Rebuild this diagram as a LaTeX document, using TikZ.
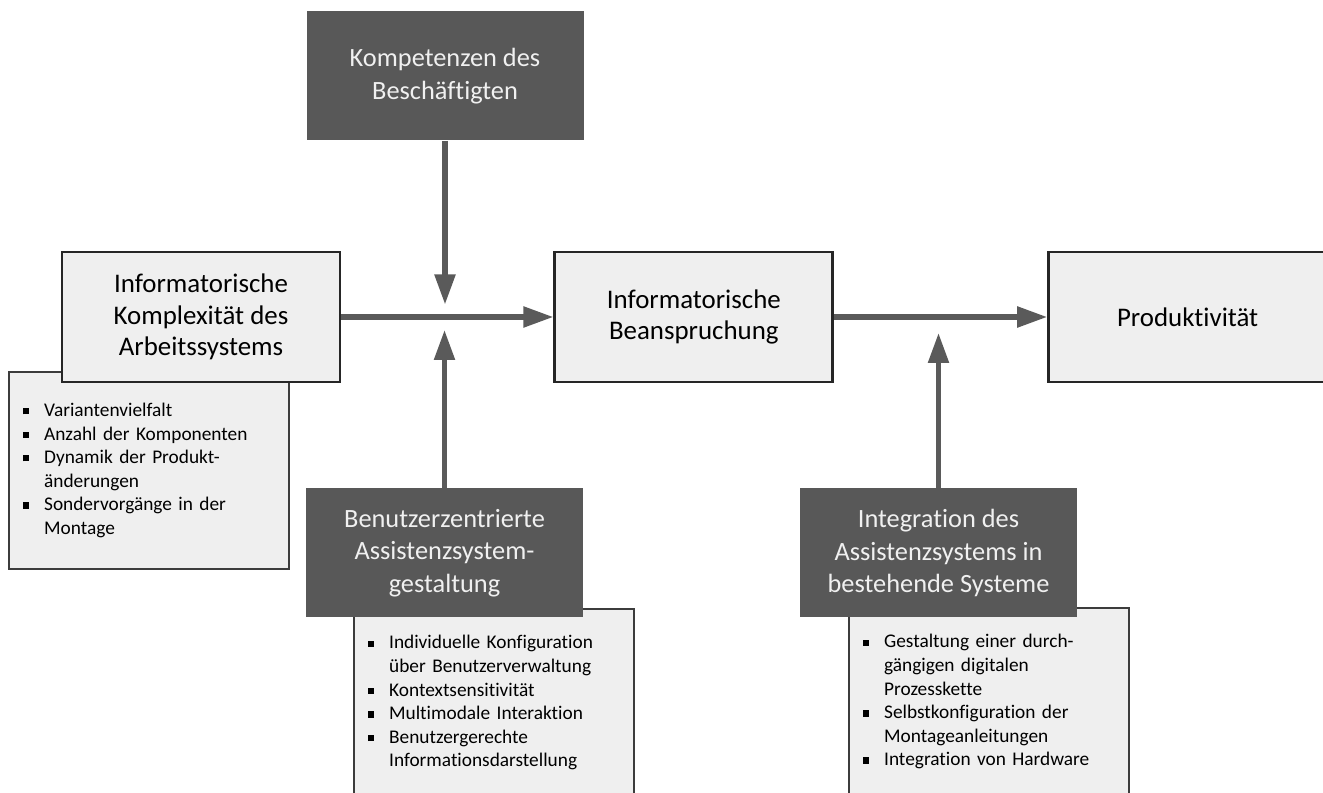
\documentclass[tikz,border=0pt]{standalone}
\usepackage{fontspec}
\setmainfont{Carlito}[Ligatures=NoCommon]
\usetikzlibrary{arrows.meta, positioning, calc, backgrounds}
\definecolor{boxDark}{RGB}{88, 88, 88}
\definecolor{boxLight}{RGB}{239, 239, 239}
\definecolor{arrowGray}{RGB}{90, 90, 90}
\definecolor{frameBlack}{RGB}{38, 38, 38}
\newcommand{\sqbullet}{\rule[1.2pt]{3.5pt}{3.5pt}}

\begin{document}
\begin{tikzpicture}[
    lightbox/.style={
        rectangle, minimum width=5.56cm, minimum height=2.6cm, align=center,
        fill=boxLight, draw=frameBlack, line width=1.6pt,
        font=\fontsize{15.3}{17.8}\selectfont
    },
    darkbox/.style={
        rectangle, minimum width=5.54cm, minimum height=2.58cm, align=center,
        fill=boxDark, text=white!94!black,
        font=\fontsize{15}{18.4}\selectfont
    },
    listbox/.style={
        rectangle, anchor=north west, minimum width=5.6cm, text width=5.04cm,
        inner xsep=0.28cm, align=left, fill=boxLight, draw=frameBlack!90,
        line width=1.3pt, font=\fontsize{11}{13.4}\selectfont
    },
    arrow/.style={-{Triangle[length=0.6cm, width=0.4cm]}, line width=3pt, draw=arrowGray}
]
\useasboundingbox (0,0) rectangle (26.46,15.84);
\node[lightbox] (komplex) at (4.02,9.5) {Informatorische\\Komplexität des\\Arbeitssystems};
\node[lightbox, right=4.24cm of komplex] (beans) {Informatorische\\Beanspruchung};
\node[lightbox, right=4.26cm of beans] (prod) {Produktivität};
\node[darkbox] (kompetenz) at (8.9,14.32) {Kompetenzen des\\Beschäftigten};
\node[darkbox] (benutzer) at (8.89,4.78) {Benutzerzentrierte\\Assistenzsystem-\\gestaltung};
\node[darkbox] (integration) at (18.77,4.78) {Integration des\\Assistenzsystems in\\bestehende Systeme};
\draw[arrow] (komplex.east) -- (beans.west);
\draw[arrow] (beans.east) -- (prod.west);
\draw[arrow] (kompetenz.south) -- ($(kompetenz.south |- komplex.east)+(0,0.25)$);
\draw[arrow] (benutzer.north) -- ($(benutzer.north |- komplex.east)+(0,-0.26)$);
\draw[arrow] (integration.north) -- ($(integration.north |- beans.east)+(0,-0.32)$);
\begin{scope}[on background layer]
    \node[listbox, minimum height=3.94cm] (komplexlist) at (0.16,8.42) {%
        \begin{tabular}{@{}p{0.42cm}@{}l@{}}
        \sqbullet & Variantenvielfalt\\
        \sqbullet & Anzahl der Komponenten\\
        \sqbullet & Dynamik der Produkt-\\
                  & änderungen\\
        \sqbullet & Sondervorgänge in der\\
                  & Montage
        \end{tabular}};
    \node[listbox, minimum height=3.76cm] (benutzerlist) at (7.06,3.68) {%
        \begin{tabular}{@{}p{0.42cm}@{}l@{}}
        \sqbullet & Individuelle Konfiguration\\
                  & über Benutzerverwaltung\\
        \sqbullet & Kontextsensitivität\\
        \sqbullet & Multimodale Interaktion\\
        \sqbullet & Benutzergerechte\\
                  & Informationsdarstellung
        \end{tabular}};
    \node[listbox, minimum height=3.76cm] (integrationlist) at (16.96,3.7) {%
        \begin{tabular}{@{}p{0.42cm}@{}l@{}}
        \sqbullet & Gestaltung einer durch-\\
                  & gängigen digitalen\\
                  & Prozesskette\\
        \sqbullet & Selbstkonfiguration der\\
                  & Montageanleitungen\\
        \sqbullet & Integration von Hardware
        \end{tabular}};
\end{scope}
\end{tikzpicture}
\end{document}
